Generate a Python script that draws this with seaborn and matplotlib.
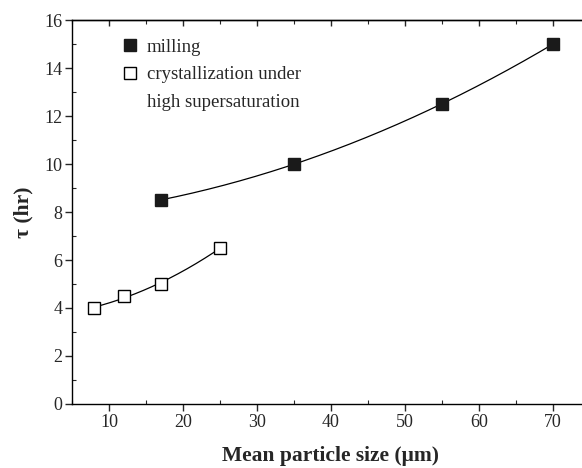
import numpy as np
import pandas as pd
import matplotlib
matplotlib.use("Agg")
import matplotlib.pyplot as plt
import seaborn as sns
from matplotlib.ticker import MultipleLocator
from matplotlib.lines import Line2D

# Data
mill_x = [17, 35, 55, 70]
mill_y = [8.5, 10.0, 12.5, 15.0]
cryst_x = [8, 12, 17, 25]
cryst_y = [4.0, 4.5, 5.0, 6.5]
labels = ["milling", "crystallization under", "high supersaturation"]
xticks = [10, 20, 30, 40, 50, 60, 70]
yticks = [0, 2, 4, 6, 8, 10, 12, 14, 16]

sns.set_style("ticks")
plt.rcParams["font.family"] = ["Liberation Serif", "DejaVu Serif"]

fig = plt.figure(figsize=(5.82, 4.68), dpi=100)
ax = fig.add_axes([72 / 582, 1 - 404 / 468, (590 - 72) / 582, (404 - 20) / 468])

def smooth(xs, ys):
    c = np.polyfit(xs, ys, 2)
    xx = np.linspace(min(xs), max(xs), 200)
    return pd.DataFrame({"x": xx, "y": np.polyval(c, xx)})

s1 = smooth(mill_x, mill_y)
s2 = smooth(cryst_x, cryst_y)
sns.lineplot(data=s1, x="x", y="y", ax=ax, color="black", lw=0.9, zorder=2)
sns.lineplot(data=s2, x="x", y="y", ax=ax, color="black", lw=0.9, zorder=2)

ax.plot(mill_x, mill_y, ls="none", marker="s", ms=8.5, mfc="#1a1a1a", mec="#1a1a1a", zorder=3)
ax.plot(cryst_x, cryst_y, ls="none", marker="s", ms=8.5, mfc="white", mec="black", mew=1.0, zorder=3)

ax.set_xlim(5, 75)
ax.set_ylim(0, 16)
ax.set_xticks(xticks)
ax.set_yticks(yticks)
ax.xaxis.set_minor_locator(MultipleLocator(5))
ax.yaxis.set_minor_locator(MultipleLocator(1))
ax.tick_params(axis="both", which="major", direction="out", length=5, width=1,
               labelsize=13, pad=2, top=False, right=False)
ax.tick_params(axis="both", which="minor", direction="in", length=3, width=0.8,
               top=False, right=False)

top = ax.secondary_xaxis("top")
top.set_xticks(xticks)
top.xaxis.set_minor_locator(MultipleLocator(5))
top.tick_params(which="both", direction="in", labeltop=False)
top.tick_params(which="major", length=4, width=1)
top.tick_params(which="minor", length=3, width=0.8)
top.spines["top"].set_linewidth(1.0)

for side in ["top", "bottom", "left"]:
    ax.spines[side].set_linewidth(1.0)
    ax.spines[side].set_color("black")
ax.spines["right"].set_visible(False)

ax.set_xlabel("Mean particle size (μm)", fontsize=15.5, fontweight="bold", labelpad=11)
ax.set_ylabel("τ (hr)", fontsize=15.5, fontweight="bold", labelpad=8)

handles = [
    Line2D([], [], ls="none", marker="s", ms=8.5, mfc="#1a1a1a", mec="#1a1a1a"),
    Line2D([], [], ls="none", marker="s", ms=8.5, mfc="white", mec="black", mew=1.0),
    Line2D([], [], ls="none", marker=None),
]
leg = ax.legend(handles, labels, loc="upper left", bbox_to_anchor=(0.065, 0.995), frameon=False,
                fontsize=13.5, handletextpad=0.5, labelspacing=0.55, handlelength=0.8)

fig.savefig("out.png", dpi=100)
